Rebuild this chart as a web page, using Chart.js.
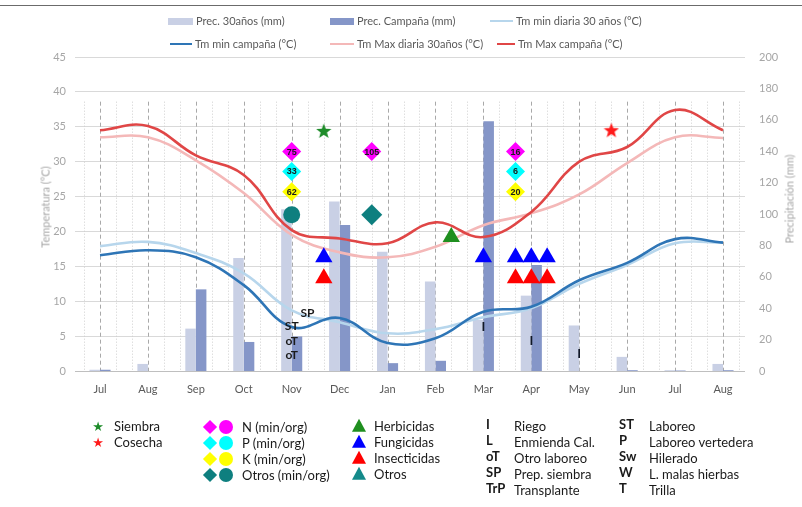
<!DOCTYPE html>
<html><head><meta charset="utf-8">
<script src="https://cdn.jsdelivr.net/npm/chart.js@4.4.0/dist/chart.umd.min.js"></script>
<style>
html,body{margin:0;padding:0;background:#fff;}
#wrap{position:relative;width:802px;height:507px;overflow:hidden;font-family:Lato,'Open Sans',sans-serif;}
#c{position:absolute;left:0;top:0;}
.topline{position:absolute;left:0;top:5px;width:802px;height:1px;background:#6b6b6b;}
.lg{position:absolute;font-size:11px;color:#595959;white-space:nowrap;line-height:14px;}
.sw{position:absolute;}
.axt{position:absolute;font-size:11px;color:#a6a6a6;white-space:nowrap;transform:translate(-50%,-50%) rotate(-90deg);}
.bl{position:absolute;font-size:13px;color:#1a1a1a;white-space:nowrap;line-height:16px;transform:translateY(-50%);}
.ab{font-weight:bold;}
.dia{position:absolute;width:10px;height:10px;transform:translate(-50%,-50%) rotate(45deg);}
.cir{position:absolute;width:14px;height:14px;border-radius:50%;transform:translate(-50%,-50%);}
.tri{position:absolute;width:0;height:0;border-left:7px solid transparent;border-right:7px solid transparent;transform:translate(-50%,-55%);}
.star{position:absolute;font-family:'DejaVu Sans',sans-serif;font-size:13px;line-height:13px;transform:translate(-50%,-50%);}
</style></head>
<body><div id="wrap"><canvas id="c" width="802" height="507"></canvas><div class="topline"></div></div>
<script>
// ---- data ----
const months = ['Jul','Aug','Sep','Oct','Nov','Dec','Jan','Feb','Mar','Apr','May','Jun','Jul','Aug'];
const prec30   = [0.8, 4.5, 27, 72, 103, 108, 76, 57, 32.5, 48, 29, 9, 0.5, 4.5];
const precCamp = [0.8, 0, 52, 18.5, 22, 93, 5, 6.5, 159, 67.5, 0, 0.5, 0.3, 0.5];
const tmin30   = [17.9, 18.5, 16.9, 14.0, 8.7, 7.0, 5.4, 6.0, 7.7, 9.0, 12.5, 15.2, 18.3, 18.4];
const tminCamp = [16.6, 17.3, 16.3, 12.3, 6.3, 7.6, 4.0, 4.7, 8.5, 9.2, 13.0, 15.5, 18.9, 18.4];
const tmax30   = [33.5, 33.5, 30.2, 25.5, 19.5, 17.0, 16.3, 17.8, 20.9, 22.6, 25.3, 29.8, 33.5, 33.4];
const tmaxCamp = [34.5, 35.1, 30.9, 28.1, 20.2, 19.0, 18.3, 21.3, 19.2, 22.8, 30.0, 32.1, 37.4, 34.5];

// field operations (x in months from first Jul, y on temperature scale)
const siembraX = [4.67],  siembraY = [34.4];
const cosechaX = [10.67], cosechaY = [34.5];
const nX = [4, 5.67, 8.67], nY = [31.45, 31.45, 31.45], nTxt = ['75', '105', '16'];
const pX = [4, 8.67],       pY = [28.6, 28.6],          pTxt = ['33', '6'];
const kX = [4, 8.67],       kY = [25.7, 25.7],          kTxt = ['62', '20'];
const otrosOrgX = [4],    otrosOrgY = [22.4];
const otrosMinX = [5.67], otrosMinY = [22.4];
const herbX = [7.33], herbY = [19.2];
const fungX = [4.67, 8, 8.67, 9, 9.33], fungY = [16.3, 16.3, 16.3, 16.3, 16.3];
const insX  = [4.67, 8.67, 9, 9.33],    insY  = [13.3, 13.3, 13.3, 13.3];
const labX = [4.33, 4, 4, 4], labY = [8.3, 6.45, 4.4, 2.4], labTxt = ['SP', 'ST', 'oT', 'oT'];
const riegoX = [8, 9, 10], riegoY = [6.3, 4.3, 2.4], riegoTxt = ['I', 'I', 'I'];

const tempTicks = [0, 45, 5];
const precTicks = [0, 200, 20];

// ---- styles ----
const C = {
  prec30:'#c9d0e5', precCamp:'#8596c8', tmin30:'#b7d6ec', tminCamp:'#2e75b6',
  tmax30:'#f4b8b8', tmaxCamp:'#e04646',
  n:'#ff00ff', p:'#00ffff', k:'#ffff00', otros:'#0e7f7f',
  herb:'#1f8f1f', fung:'#0000ff', ins:'#ff0000', teal:'#148a8a',
  siembra:'#1e8c2a', cosecha:'#ff1a1a'
};
const FONT = 'Lato, "Open Sans", sans-serif';
const xy = (xs, ys) => xs.map((x, i) => ({x: x, y: ys[i]}));
const seq = arr => arr.map((v, i) => ({x: i, y: v}));

function starCanvas(color, size) {
  const c = document.createElement('canvas'); c.width = c.height = size;
  const g = c.getContext('2d'); g.fillStyle = color; g.beginPath();
  for (let i = 0; i < 10; i++) {
    const r = i % 2 ? size * 0.21 : size * 0.5;
    const a = -Math.PI / 2 + i * Math.PI / 5;
    g.lineTo(size / 2 + r * Math.cos(a), size / 2 + 0.5 + r * Math.sin(a));
  }
  g.closePath(); g.fill(); return c;
}

function lineDs(label, data, color, order) {
  return {type:'line', label, data: seq(data), borderColor: color, backgroundColor: color,
    borderWidth: 2.6, pointRadius: 0, tension: 0.4, fill: false, yAxisID: 'y', order: order};
}
function markDs(label, xs, ys, style, color, radius, extra) {
  return Object.assign({type:'line', label, data: xy(xs, ys), showLine: false, pointStyle: style,
    pointRadius: radius, pointBackgroundColor: color, pointBorderColor: color, pointBorderWidth: 0,
    yAxisID: 'y', order: 0}, extra || {});
}

const datasets = [
  {type:'bar', label:'Prec. 30años (mm)', data: seq(prec30), backgroundColor: C.prec30, yAxisID:'y2',
   categoryPercentage: 0.44, barPercentage: 1, order: 3},
  {type:'bar', label:'Prec. Campaña (mm)', data: seq(precCamp), backgroundColor: C.precCamp, yAxisID:'y2',
   categoryPercentage: 0.44, barPercentage: 1, order: 3},
  lineDs('Tm min diaria 30 años (°C)', tmin30, C.tmin30, 2),
  lineDs('Tm min campaña (°C)', tminCamp, C.tminCamp, 1),
  lineDs('Tm Max diaria 30años (°C)', tmax30, C.tmax30, 2),
  lineDs('Tm Max campaña (°C)', tmaxCamp, C.tmaxCamp, 1),
  markDs('Siembra', siembraX, siembraY, starCanvas(C.siembra, 16), C.siembra, 8),
  markDs('Cosecha', cosechaX, cosechaY, starCanvas(C.cosecha, 16), C.cosecha, 8),
  markDs('N', nX, nY, 'rectRot', C.n, 9.5, {texts: nTxt, textFont: 'bold 9px Arial, "Liberation Sans", sans-serif', textColor: '#1a1a1a'}),
  markDs('P', pX, pY, 'rectRot', C.p, 9.5, {texts: pTxt, textFont: 'bold 9px Arial, "Liberation Sans", sans-serif', textColor: '#1a1a1a'}),
  markDs('K', kX, kY, 'rectRot', C.k, 9.5, {texts: kTxt, textFont: 'bold 9px Arial, "Liberation Sans", sans-serif', textColor: '#1a1a1a'}),
  markDs('Otros org', otrosOrgX, otrosOrgY, 'circle', C.otros, 8.5),
  markDs('Otros min', otrosMinX, otrosMinY, 'rectRot', C.otros, 10.5),
  markDs('Herbicidas', herbX, herbY, 'triangle', C.herb, 10),
  markDs('Fungicidas', fungX, fungY, 'triangle', C.fung, 10),
  markDs('Insecticidas', insX, insY, 'triangle', C.ins, 10),
  markDs('Laboreo', labX, labY, 'circle', 'rgba(0,0,0,0)', 0, {texts: labTxt, textFont: 'bold 12px Lato, Arial, sans-serif', textColor: '#1a1a1a'}),
  markDs('Riego', riegoX, riegoY, 'circle', 'rgba(0,0,0,0)', 0, {texts: riegoTxt, textFont: 'bold 12px Arial, "Liberation Sans", sans-serif', textColor: '#111827'})
];

// vertical month / ten-day grid drawn from the x scale
const periodGrid = {
  id: 'periodGrid',
  beforeDatasetsDraw(chart) {
    const xs = chart.scales.x, ys = chart.scales.y, ctx = chart.ctx;
    const top = ys.getPixelForValue(38.6), bottom = ys.getPixelForValue(0);
    ctx.save();
    for (let k = -1; k <= months.length * 3 - 2; k++) {
      const px = Math.round(xs.getPixelForValue(k / 3)) + 0.5;
      ctx.beginPath();
      if (k % 3 === 0) { ctx.setLineDash([4, 3]); ctx.strokeStyle = '#a9a9a9'; }
      else { ctx.setLineDash([1, 2]); ctx.strokeStyle = '#cfcfcf'; }
      ctx.lineWidth = 1;
      ctx.moveTo(px, top); ctx.lineTo(px, bottom); ctx.stroke();
    }
    ctx.restore();
  }
};
const pointText = {
  id: 'pointText',
  afterDatasetsDraw(chart) {
    const ctx = chart.ctx;
    chart.data.datasets.forEach((ds, i) => {
      if (!ds.texts) return;
      const meta = chart.getDatasetMeta(i);
      meta.data.forEach((pt, j) => {
        ctx.save(); ctx.font = ds.textFont; ctx.fillStyle = ds.textColor;
        ctx.textAlign = 'center'; ctx.textBaseline = 'middle';
        ctx.fillText(ds.texts[j], pt.x, pt.y + 0.5); ctx.restore();
      });
    });
  }
};

new Chart(document.getElementById('c'), {
  data: { datasets },
  plugins: [periodGrid, pointText],
  options: {
    responsive: false, devicePixelRatio: 1, animation: false, events: [],
    layout: { padding: { top: 57, left: 0, right: 0, bottom: 0 } },
    plugins: { legend: { display: false }, tooltip: { enabled: false } },
    scales: {
      x: {
        type: 'linear', position: 'bottom', min: -0.522, max: 13.459, offset: false, bounds: 'data',
        afterBuildTicks: s => { s.ticks = months.map((m, i) => ({ value: i })); },
        afterFit: s => { s.height = 136; s.paddingLeft = 0; s.paddingRight = 0; },
        grid: { display: false, offset: false }, border: { display: false },
        ticks: { callback: v => months[v], autoSkip: false, maxRotation: 0, padding: 4,
                 color: '#595959', font: { family: FONT, size: 11 } }
      },
      y: {
        type: 'linear', position: 'left', min: tempTicks[0], max: tempTicks[1],
        afterFit: s => { s.width = 75; s.paddingTop = 0; s.paddingBottom = 0; },
        grid: { color: c => c.tick && c.tick.value === 0 ? '#bfbfbf' : '#d9d9d9', drawTicks: false, lineWidth: 1 },
        border: { display: false },
        ticks: { stepSize: tempTicks[2], padding: 9, color: '#a6a6a6', font: { family: FONT, size: 11 } }
      },
      y2: {
        type: 'linear', position: 'right', min: precTicks[0], max: precTicks[1],
        afterFit: s => { s.width = 57; s.paddingTop = 0; s.paddingBottom = 0; },
        grid: { display: false, drawTicks: false }, border: { display: false },
        ticks: { stepSize: precTicks[2], padding: 14, color: '#a6a6a6', font: { family: FONT, size: 11 } }
      }
    }
  }
});

// ---- HTML legends & titles ----
const wrap = document.getElementById('wrap');
function add(html) { wrap.insertAdjacentHTML('beforeend', html); }
const topLegend = [
  [0, 'box', 168, 21, 25, 7], [1, 'box', 330, 21, 24, 7], [2, 'line', 490, 21, 23, 2.5],
  [3, 'line', 170, 44, 22, 2.5], [4, 'line', 330, 44, 24, 2.5], [5, 'line', 497, 44, 18, 2.5]
];
topLegend.forEach(([i, kind, x, y, w, h]) => {
  const ds = datasets[i];
  const color = kind === 'box' ? ds.backgroundColor : ds.borderColor;
  add(`<div class="sw" style="left:${x}px;top:${y - h / 2}px;width:${w}px;height:${h}px;background:${color}"></div>`);
  add(`<div class="lg" style="left:${x + w + 3}px;top:${y - 7.5}px">${ds.label}</div>`);
});
add(`<div class="axt" style="left:45px;top:207px">Temperatura (°C)</div>`);
add(`<div class="axt" style="left:789px;top:199px">Precipitación (mm)</div>`);

const rows = [426, 442, 458, 474, 490];
// stars
add(`<div class="star" style="left:98px;top:${rows[0]}px;color:${C.siembra}">★</div><div class="bl" style="left:114px;top:${rows[0]}px">Siembra</div>`);
add(`<div class="star" style="left:98px;top:${rows[1]}px;color:${C.cosecha}">★</div><div class="bl" style="left:114px;top:${rows[1]}px">Cosecha</div>`);
// nutrients
[['N (min/org)', C.n], ['P (min/org)', C.p], ['K (min/org)', C.k], ['Otros (min/org)', C.otros]].forEach(([t, col], r) => {
  const y = rows[r] + 1;
  add(`<div class="dia" style="left:210px;top:${y}px;background:${col}"></div><div class="cir" style="left:226px;top:${y}px;background:${col}"></div>`);
  add(`<div class="bl" style="left:242px;top:${y}px">${t}</div>`);
});
// pesticides
[['Herbicidas', C.herb], ['Fungicidas', C.fung], ['Insecticidas', C.ins], ['Otros', C.teal]].forEach(([t, col], r) => {
  const y = rows[r];
  add(`<div class="tri" style="left:359px;top:${y}px;border-bottom:13px solid ${col}"></div>`);
  add(`<div class="bl" style="left:374px;top:${y}px">${t}</div>`);
});
// abbreviations
[['I', 'Riego'], ['L', 'Enmienda Cal.'], ['oT', 'Otro laboreo'], ['SP', 'Prep. siembra'], ['TrP', 'Transplante']].forEach(([a, t], r) => {
  add(`<div class="bl ab" style="left:486px;top:${rows[r] - 2}px">${a}</div><div class="bl" style="left:514px;top:${rows[r]}px">${t}</div>`);
});
[['ST', 'Laboreo'], ['P', 'Laboreo vertedera'], ['Sw', 'Hilerado'], ['W', 'L. malas hierbas'], ['T', 'Trilla']].forEach(([a, t], r) => {
  add(`<div class="bl ab" style="left:619px;top:${rows[r] - 2}px">${a}</div><div class="bl" style="left:649px;top:${rows[r]}px">${t}</div>`);
});
</script></body></html>
